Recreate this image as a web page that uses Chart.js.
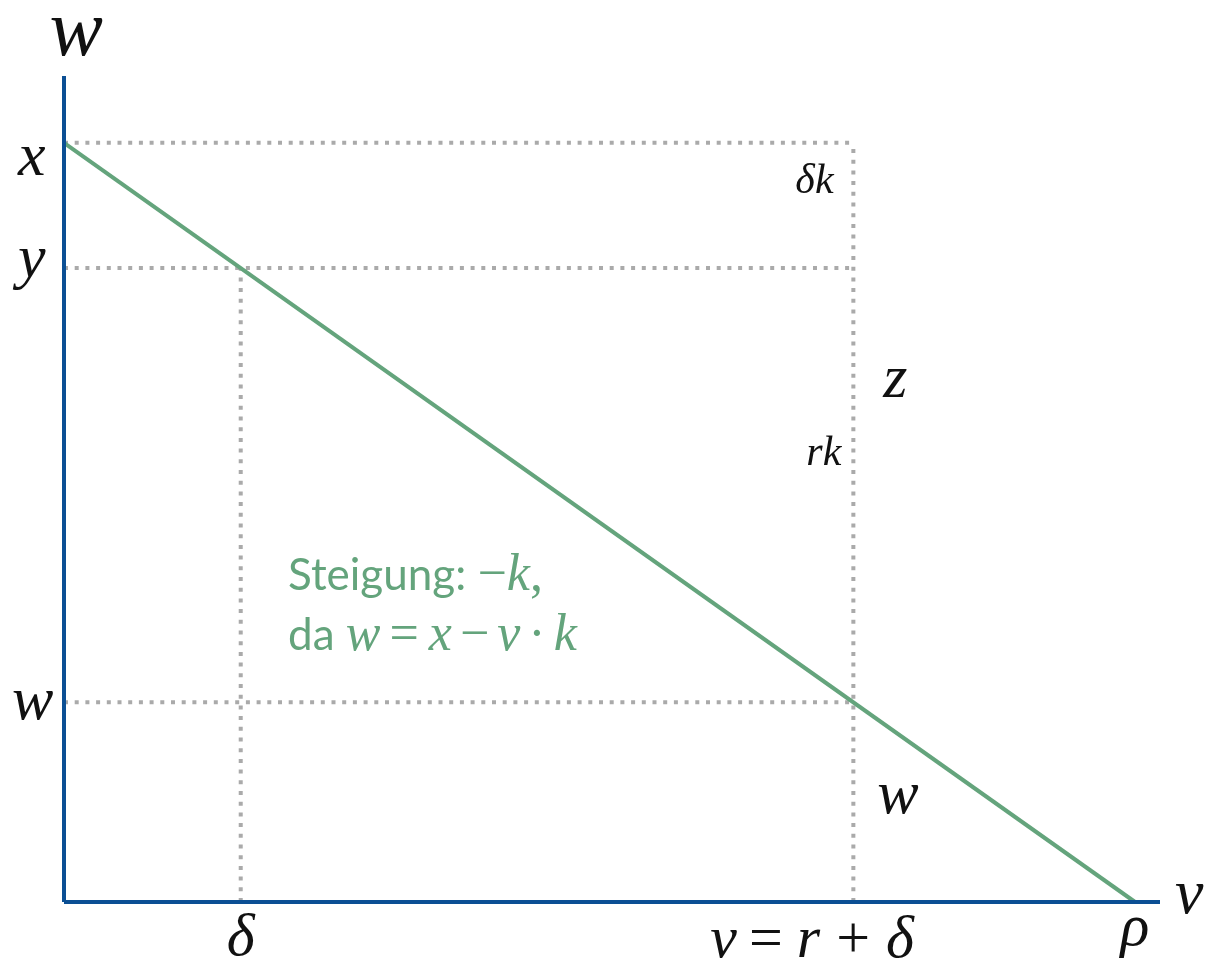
<!DOCTYPE html>
<html>
<head>
<meta charset="utf-8">
<script src="https://cdn.jsdelivr.net/npm/chart.js@4"></script>
<style>
  html, body { margin: 0; padding: 0; background: #fff; overflow: hidden; }
  #wrap { position: relative; width: 1206px; height: 960px; }
  #chart { position: absolute; left: 0; top: 0; }
  #labels { position: absolute; left: 0; top: 0; width: 1206px; height: 960px; pointer-events: none; }
  .lbl { position: absolute; white-space: nowrap; color: #111; font-family: 'Liberation Serif', serif; }
  .it { font-family: 'Liberation Serif', serif; font-style: italic; }
  .rm { font-family: 'Liberation Serif', serif; font-style: normal; }
  .sans { font-family: Lato, sans-serif; font-style: normal; }
  .mark { display: inline-block; width: 0; height: 0; }
</style>
</head>
<body>
<div id="wrap">
  <canvas id="chart" width="1206" height="960"></canvas>
  <div id="labels"></div>
</div>
<script>
// Werte (v-Achse: rho = 1, w-Achse: x = 1)
const xTickValues = [0.165, 0.737, 1.0];
const xTickLabels = ['δ', 'v = r + δ', 'ρ'];
const yTickValues = [1.0, 0.835, 0.263];
const yTickLabels = ['x', 'y', 'w'];
const linePoints = [{ x: 0, y: 1.0 }, { x: 1.0, y: 0 }];
const xMax = 1.0233;
const yMax = 1.088;

const BLUE = '#0b4f94';
const GREEN = '#64a47c';
const GRAY = '#aaaaaa';

// gepunktete Hilfslinien aus den Tick-Werten
const guides = [
    [{ x: 0, y: yTickValues[0] }, { x: xTickValues[1], y: yTickValues[0] }],
    [{ x: 0, y: yTickValues[1] }, { x: xTickValues[1], y: yTickValues[1] }],
    [{ x: 0, y: yTickValues[2] }, { x: xTickValues[1], y: yTickValues[2] }],
    [{ x: xTickValues[0], y: 0 }, { x: xTickValues[0], y: yTickValues[1] }],
    [{ x: xTickValues[1], y: 0 }, { x: xTickValues[1], y: yTickValues[0] }]
];

const datasets = [];
// Achsen
datasets.push({ data: [{ x: 0, y: 0 }, { x: 0, y: yMax }], borderColor: BLUE, borderWidth: 4, order: 0, clip: false });
datasets.push({ data: [{ x: 0, y: 0 }, { x: xMax, y: 0 }], borderColor: BLUE, borderWidth: 4, order: 0, clip: false });
// Gerade
datasets.push({ data: linePoints, borderColor: GREEN, borderWidth: 4, order: 1, clip: false });
guides.forEach(g => {
    datasets.push({ data: g, borderColor: GRAY, borderWidth: 4, borderDash: [4, 6.7], order: 2, clip: false });
});
datasets.forEach(d => { d.showLine = true; d.pointRadius = 0; d.fill = false; });

const chart = new Chart(document.getElementById('chart'), {
    type: 'scatter',
    data: { datasets },
    options: {
        responsive: false,
        animation: false,
        layout: { padding: { left: 64, top: 76, right: 46, bottom: 58 } },
        plugins: { legend: { display: false }, tooltip: { enabled: false } },
        scales: {
            x: { type: 'linear', display: false, min: 0, max: xMax },
            y: { type: 'linear', display: false, min: 0, max: yMax }
        }
    }
});

// Beschriftungen als Text über dem Canvas, Position aus den Skalen
const box = document.getElementById('labels');
const it = t => `<span class="it">${t}</span>`;
const op = (t, l, r) => `<span class="rm" style="margin-left:${l}px;margin-right:${r}px">${t}</span>`;
const sans = t => `<span class="sans">${t}</span>`;

const addLabel = (html, x, baseY, size, align, color) => {
    const el = document.createElement('div');
    el.className = 'lbl';
    el.style.fontSize = size + 'px';
    el.style.lineHeight = size + 'px';
    if (color) el.style.color = color;
    el.innerHTML = html + '<span class="mark"></span>';
    box.appendChild(el);
    const w = el.offsetWidth;
    const base = el.querySelector('.mark').offsetTop;
    let left = x;
    if (align === 'center') left = x - w / 2;
    if (align === 'right') left = x - w;
    el.style.left = left + 'px';
    el.style.top = (baseY - base) + 'px';
};

const layoutLabels = () => {
    box.innerHTML = '';
    const xs = chart.scales.x, ys = chart.scales.y;

    // Achsentitel
    addLabel(it('w'), xs.getPixelForValue(0) + 12, 55, 80, 'center');
    addLabel(it('v'), xs.getPixelForValue(xMax) + 15, 913, 64, 'left');

    // y-Beschriftung
    const yOff = [32, 9, 17];
    const yRight = [46, 46, 53];
    yTickValues.forEach((v, i) => {
        addLabel(it(yTickLabels[i]), yRight[i], ys.getPixelForValue(v) + yOff[i], 62, 'right');
    });

    // x-Beschriftung
    addLabel(it(xTickLabels[0]), xs.getPixelForValue(xTickValues[0]), 955, 60, 'center');
    addLabel(it(xTickLabels[2]), xs.getPixelForValue(xTickValues[2]), 945, 60, 'center');
    addLabel(it('v') + op('=', 12, 14) + it('r') + op('+', 16, 16) + it('δ'),
        xs.getPixelForValue(xTickValues[1]) - 143, 957, 60, 'left');

    // Strecken an der rechten Hilfslinie
    const gx = xs.getPixelForValue(xTickValues[1]);
    addLabel(it('δk'), gx - 20, 193, 42, 'right');
    addLabel(it('rk'), gx - 12, 465, 42, 'right');
    addLabel(it('z'), gx + 30, 397, 62, 'left');
    addLabel(it('w'), gx + 24, 813, 62, 'left');

    // Steigung
    addLabel(sans('Steigung: ') + '<span class="rm">−</span>' + it('k') + '<span class="rm">,</span>',
        288, 590, 44, 'left', GREEN);
    addLabel(sans('da ') + it('w') + op('=', 9, 10) + it('x') + op('−', 8, 8) + it('v') + op('·', 8, 8) + it('k'),
        288, 650, 44, 'left', GREEN);
    box.querySelectorAll('.it, .rm').forEach(s => {
        if (s.closest('.lbl').style.fontSize === '44px') s.style.fontSize = '52px';
    });
};

layoutLabels();
// nach dem Laden der Schriften neu ausrichten
const relayout = () => {
    layoutLabels();
    // Grundlinie nach Größenänderung der Mathe-Teile neu setzen
};
document.fonts.ready.then(relayout);
setTimeout(relayout, 150);
</script>
</body>
</html>
